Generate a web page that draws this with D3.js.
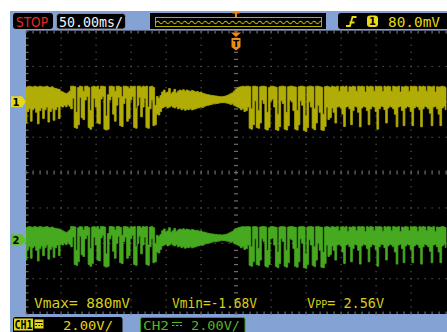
<!DOCTYPE html>
<html><head><meta charset="utf-8">
<script src="https://cdn.jsdelivr.net/npm/d3@7"></script>
<style>body{margin:0;background:#fff}svg{display:block}</style>
</head><body>
<svg id="scope" width="447" height="332"></svg>
<script>
// Acquisition settings
const timeStartMs = -300;      // left edge of record, trigger at 0
const timeStepMs = 2.5;        // spacing between envelope columns
const timePerDivMs = 50;
const voltsPerDiv = 2;
const ch1OffsetV = 4.0;
const ch2OffsetV = -3.8;

// Channel 1 envelope (max / min volts per column)
const ch1Hi = [0.80,0.85,0.88,0.85,0.83,0.88,0.85,0.83,0.88,0.85,
  0.83,0.85,0.88,0.83,0.80,0.85,0.78,0.75,0.72,0.70,
  0.60,0.55,0.50,0.45,0.50,0.60,0.88,0.88,0.85,-0.60,
  0.80,0.88,0.85,0.60,0.88,0.88,0.80,-0.50,0.85,0.88,
  0.83,0.88,0.70,0.88,0.88,0.85,-0.80,0.40,0.88,0.88,
  0.85,0.60,0.88,0.88,0.83,0.30,0.88,0.88,0.85,0.75,
  0.88,0.85,0.88,-0.40,0.88,0.88,0.80,0.88,0.85,0.88,
  -0.30,0.85,0.88,0.80,-0.20,0.30,0.20,0.35,0.55,0.66,
  0.50,0.55,0.75,0.45,0.55,0.70,0.50,0.60,0.66,0.62,
  0.68,0.60,0.66,0.62,0.58,0.64,0.60,0.55,0.58,0.52,
  0.55,0.48,0.45,0.42,0.40,0.38,0.36,0.35,0.33,0.32,
  0.30,0.30,0.28,0.30,0.32,0.35,0.40,0.45,0.50,0.60,
  0.70,0.78,0.83,0.85,0.88,0.85,0.88,0.88,0.85,-0.40,
  0.88,0.88,0.85,-0.50,0.85,0.88,0.88,0.85,-0.60,0.80,
  0.88,0.88,0.85,0.82,-0.70,0.85,0.88,0.88,0.85,-0.60,
  0.85,0.88,0.88,0.85,0.83,-0.50,0.85,0.88,0.88,0.85,
  -0.80,0.85,0.88,0.88,0.85,-0.40,0.88,0.88,0.85,0.82,
  -0.70,0.85,0.88,0.85,0.80,0.88,0.85,0.83,0.88,0.60,
  0.85,0.88,0.83,0.88,0.55,0.85,0.83,0.88,0.85,0.60,
  0.88,0.85,0.88,0.85,0.55,0.88,0.83,0.88,0.85,0.60,
  0.88,0.85,0.88,0.85,0.58,0.88,0.83,0.88,0.85,0.60,
  0.88,0.85,0.83,0.88,0.55,0.85,0.83,0.88,0.85,0.60,
  0.88,0.85,0.88,0.85,0.58,0.88,0.83,0.88,0.85,0.60,
  0.88,0.85,0.83,0.88,0.55,0.85,0.83,0.85,0.88,0.85,
  0.80];
const ch1Lo = [-1.20,-0.55,-0.40,-1.10,-0.45,-0.35,-0.60,-1.25,-0.50,-0.35,
  -0.95,-0.45,-0.30,-1.15,-0.55,-0.40,-1.05,-0.45,-0.30,-0.95,
  -0.25,-0.30,-0.20,-0.28,-0.15,-0.25,-0.40,0.20,-1.45,-1.50,
  -1.30,0.25,-0.90,-1.00,0.10,0.30,-1.45,-1.55,-1.40,0.20,
  -0.30,-1.20,-1.25,0.15,0.30,-1.55,-1.60,-1.55,0.10,0.30,
  -0.70,-1.10,-0.20,0.25,-1.35,-1.40,-0.10,0.20,-1.10,-0.95,
  0.10,0.30,-1.45,-1.50,-0.20,0.25,-0.85,-0.30,0.20,-1.45,
  -1.50,-0.40,0.10,-1.35,-1.30,-0.70,-0.75,-0.55,-0.35,-0.30,
  -0.25,-0.35,-0.30,-0.22,-0.30,-0.35,-0.28,-0.40,-0.35,-0.45,
  -0.40,-0.48,-0.42,-0.45,-0.40,-0.46,-0.42,-0.40,-0.36,-0.34,
  -0.30,-0.32,-0.26,-0.22,-0.20,-0.18,-0.15,-0.12,-0.12,-0.10,
  -0.08,-0.06,-0.05,-0.05,-0.06,-0.08,-0.10,-0.15,-0.12,-0.20,
  -0.25,-0.30,-0.35,-0.45,-0.40,-0.55,-0.50,-0.30,-1.50,-1.55,
  -1.30,0.05,-1.45,-1.50,-1.20,0.10,-0.10,-1.55,-1.60,-1.45,
  0.05,0.15,-0.30,-1.58,-1.62,-1.40,0.05,-0.10,-1.55,-1.60,
  -1.35,0.10,0.00,-0.50,-1.55,-1.60,-1.30,0.05,-0.20,-1.62,
  -1.68,-1.45,0.00,-0.30,-1.50,-1.58,-1.20,-0.20,-0.60,-1.60,
  -1.62,-1.40,-0.30,-1.00,-0.90,-0.35,-0.60,-1.20,-0.30,-0.25,
  -0.35,-0.70,-1.40,-0.30,-0.25,-0.40,-1.30,-0.50,-0.25,-0.30,
  -0.60,-1.42,-0.35,-0.25,-0.30,-0.50,-1.30,-0.40,-0.25,-0.30,
  -0.55,-1.55,-0.40,-0.25,-0.28,-0.45,-1.20,-0.35,-0.25,-0.30,
  -0.40,-0.70,-1.42,-0.30,-0.25,-0.50,-1.35,-0.35,-0.25,-0.30,
  -0.55,-1.35,-0.35,-0.25,-0.30,-0.45,-1.42,-0.40,-0.25,-0.30,
  -0.40,-0.65,-1.35,-0.30,-0.25,-0.40,-0.70,-1.35,-0.35,-0.25,
  -0.45];

// Channel 2 envelope
const ch2Hi = [0.68,0.72,0.74,0.72,0.70,0.74,0.72,0.70,0.74,0.72,
  0.70,0.72,0.74,0.70,0.68,0.72,0.66,0.64,0.62,0.60,
  0.55,0.50,0.45,0.40,0.45,0.55,0.74,0.74,0.72,-0.60,
  0.68,0.74,0.72,0.55,0.74,0.74,0.68,-0.50,0.72,0.74,
  0.70,0.74,0.60,0.74,0.74,0.72,-0.80,0.35,0.74,0.74,
  0.72,0.55,0.74,0.74,0.70,0.25,0.74,0.74,0.72,0.64,
  0.74,0.72,0.74,-0.40,0.74,0.74,0.68,0.74,0.72,0.74,
  -0.30,0.72,0.74,0.68,-0.20,0.25,0.18,0.30,0.50,0.60,
  0.45,0.50,0.68,0.42,0.50,0.64,0.46,0.55,0.60,0.57,
  0.62,0.55,0.60,0.57,0.53,0.58,0.55,0.50,0.53,0.48,
  0.50,0.44,0.42,0.39,0.37,0.35,0.33,0.32,0.30,0.29,
  0.28,0.28,0.26,0.28,0.30,0.32,0.37,0.42,0.46,0.55,
  0.62,0.66,0.70,0.72,0.74,0.72,0.74,0.74,0.72,-0.40,
  0.74,0.74,0.72,-0.50,0.72,0.74,0.74,0.72,-0.60,0.68,
  0.74,0.74,0.72,0.70,-0.70,0.72,0.74,0.74,0.72,-0.60,
  0.72,0.74,0.74,0.72,0.70,-0.50,0.72,0.74,0.74,0.72,
  -0.80,0.72,0.74,0.74,0.72,-0.40,0.74,0.74,0.72,0.70,
  -0.70,0.72,0.74,0.72,0.68,0.74,0.72,0.70,0.74,0.50,
  0.72,0.74,0.70,0.74,0.46,0.72,0.70,0.74,0.72,0.50,
  0.74,0.72,0.74,0.72,0.46,0.74,0.70,0.74,0.72,0.50,
  0.74,0.72,0.74,0.72,0.48,0.74,0.70,0.74,0.72,0.50,
  0.74,0.72,0.70,0.74,0.46,0.72,0.70,0.74,0.72,0.50,
  0.74,0.72,0.74,0.72,0.48,0.74,0.70,0.74,0.72,0.50,
  0.74,0.72,0.70,0.74,0.46,0.72,0.70,0.72,0.74,0.72,
  0.68];
const ch2Lo = [-1.15,-0.55,-0.40,-1.05,-0.45,-0.35,-0.60,-1.20,-0.50,-0.35,
  -0.90,-0.45,-0.30,-1.10,-0.55,-0.40,-1.00,-0.45,-0.30,-0.90,
  -0.25,-0.30,-0.20,-0.28,-0.15,-0.25,-0.40,0.15,-1.40,-1.45,
  -1.25,0.20,-0.85,-0.95,0.05,0.25,-1.40,-1.50,-1.35,0.15,
  -0.30,-1.15,-1.20,0.10,0.25,-1.50,-1.55,-1.50,0.05,0.25,
  -0.65,-1.05,-0.20,0.20,-1.30,-1.35,-0.10,0.15,-1.05,-0.90,
  0.05,0.25,-1.40,-1.45,-0.20,0.20,-0.80,-0.30,0.15,-1.40,
  -1.45,-0.40,0.05,-1.30,-1.25,-0.70,-0.75,-0.55,-0.35,-0.30,
  -0.25,-0.35,-0.30,-0.22,-0.30,-0.35,-0.28,-0.40,-0.35,-0.45,
  -0.40,-0.48,-0.42,-0.45,-0.40,-0.46,-0.42,-0.40,-0.36,-0.34,
  -0.30,-0.32,-0.26,-0.22,-0.20,-0.18,-0.15,-0.12,-0.12,-0.10,
  -0.08,-0.06,-0.05,-0.05,-0.06,-0.08,-0.10,-0.15,-0.12,-0.20,
  -0.25,-0.30,-0.35,-0.45,-0.40,-0.55,-0.50,-0.30,-1.45,-1.50,
  -1.25,0.05,-1.40,-1.45,-1.15,0.05,-0.10,-1.50,-1.55,-1.40,
  0.05,0.10,-0.30,-1.52,-1.58,-1.35,0.05,-0.10,-1.50,-1.55,
  -1.30,0.05,0.00,-0.50,-1.50,-1.55,-1.25,0.05,-0.20,-1.58,
  -1.62,-1.40,0.00,-0.30,-1.45,-1.52,-1.15,-0.20,-0.60,-1.55,
  -1.58,-1.35,-0.30,-0.95,-0.85,-0.35,-0.60,-1.15,-0.30,-0.25,
  -0.35,-0.70,-1.35,-0.30,-0.25,-0.40,-1.25,-0.50,-0.25,-0.30,
  -0.60,-1.38,-0.35,-0.25,-0.30,-0.50,-1.25,-0.40,-0.25,-0.30,
  -0.55,-1.50,-0.40,-0.25,-0.28,-0.45,-1.15,-0.35,-0.25,-0.30,
  -0.40,-0.70,-1.38,-0.30,-0.25,-0.50,-1.30,-0.35,-0.25,-0.30,
  -0.55,-1.30,-0.35,-0.25,-0.30,-0.45,-1.38,-0.40,-0.25,-0.30,
  -0.40,-0.65,-1.30,-0.30,-0.25,-0.40,-0.70,-1.30,-0.35,-0.25,
  -0.45];

// Readouts
const timebaseLabel = "50.00ms/";
const triggerLevelLabel = "80.0mV";
const measureLabels = [["Vmax= 880mV", ""], ["Vmin=-1.68V", ""], ["V", "PP", "= 2.56V"]];
const channelScaleLabels = ["2.00V/", "2.00V/"];

const svg = d3.select("#scope");
const mono = "'DejaVu Sans Mono', monospace";

// Screen geometry
const X0 = 26, X1 = 446, Y0 = 31, Y1 = 314;
const hDivs = 12, vDivs = 8;
const x = d3.scaleLinear()
  .domain([-hDivs / 2 * timePerDivMs, hDivs / 2 * timePerDivMs]).range([X0, X1]);
const y = d3.scaleLinear()
  .domain([-vDivs / 2 * voltsPerDiv, vDivs / 2 * voltsPerDiv]).range([Y1, Y0]);

// Bezel
svg.append("rect").attr("x", 10).attr("y", 11).attr("width", 437).attr("height", 321).attr("fill", "#84a2d4");
svg.append("rect").attr("x", X0).attr("y", Y0).attr("width", 447 - X0).attr("height", Y1 - Y0).attr("fill", "#000");
svg.append("line").attr("x1", X0).attr("x2", 447).attr("y1", Y0 - 0.5).attr("y2", Y0 - 0.5).attr("stroke", "#56607a");

// Graticule: dotted major lines
const grid = svg.append("g");
const minorT = d3.range(-hDivs / 2 * 5, hDivs / 2 * 5 + 1).map(k => k * timePerDivMs / 5);
const minorV = d3.range(-vDivs / 2 * 5, vDivs / 2 * 5 + 1).map(k => k * voltsPerDiv / 5);
const majorT = d3.range(-hDivs / 2 + 1, hDivs / 2).map(k => k * timePerDivMs);
const majorV = d3.range(-vDivs / 2 + 1, vDivs / 2).map(k => k * voltsPerDiv);
majorT.filter(t => t !== 0).forEach(t => {
  grid.selectAll(null).data(minorV).join("rect")
    .attr("x", x(t) - 0.5).attr("y", v => y(v) - 0.5).attr("width", 1.2).attr("height", 1.2).attr("fill", "#5c5c5c");
});
majorV.filter(v => v !== 0).forEach(v => {
  grid.selectAll(null).data(minorT).join("rect")
    .attr("x", t => x(t) - 0.5).attr("y", y(v) - 0.5).attr("width", 1.2).attr("height", 1.2).attr("fill", "#5c5c5c");
});
// centre axes with minor ticks
grid.selectAll(null).data(minorV).join("rect")
  .attr("x", x(0) - 2).attr("y", v => y(v) - 0.5).attr("width", 4).attr("height", 1.2).attr("fill", "#6e6e6e");
grid.selectAll(null).data(minorT).join("rect")
  .attr("x", t => x(t) - 0.5).attr("y", y(0) - 2).attr("width", 1.2).attr("height", 4).attr("fill", "#6e6e6e");
// border ticks
grid.selectAll(null).data(minorT).join("rect")
  .attr("x", t => x(t) - 0.5).attr("y", Y0).attr("width", 1.2).attr("height", 2.5).attr("fill", "#6e6e6e");
grid.selectAll(null).data(minorT).join("rect")
  .attr("x", t => x(t) - 0.5).attr("y", Y1 - 2.5).attr("width", 1.2).attr("height", 2.5).attr("fill", "#6e6e6e");
grid.selectAll(null).data(minorV).join("rect")
  .attr("x", X0).attr("y", v => y(v) - 0.5).attr("width", 2.5).attr("height", 1.2).attr("fill", "#6e6e6e");

// Waveforms
svg.append("clipPath").attr("id", "screenClip").append("rect")
  .attr("x", X0).attr("y", Y0).attr("width", 447 - X0).attr("height", Y1 - Y0);
function drawTrace(hi, lo, offset, color) {
  const area = d3.area()
    .x((d, i) => x(timeStartMs + i * timeStepMs))
    .y0((d, i) => y(lo[i] + offset))
    .y1((d, i) => y(hi[i] + offset))
    .curve(d3.curveStep);
  svg.append("path").datum(hi).attr("clip-path", "url(#screenClip)")
    .attr("d", area).attr("fill", color).attr("stroke", color).attr("stroke-width", 0.8);
}
drawTrace(ch1Hi, ch1Lo, ch1OffsetV, "#b2ad06");
drawTrace(ch2Hi, ch2Lo, ch2OffsetV, "#46a91f");

// Channel ground markers
function chMarker(label, offset, fill) {
  const cy = y(offset);
  svg.append("path").attr("d", `M11,${cy - 5.5}H22L26,${cy}L22,${cy + 5.5}H11Z`).attr("fill", fill);
  svg.append("text").attr("x", 16).attr("y", cy + 4).attr("text-anchor", "middle")
    .attr("font-family", "'DejaVu Sans', sans-serif").attr("font-weight", "bold").attr("font-size", 10)
    .attr("fill", "#000").text(label);
}
chMarker("1", ch1OffsetV, "#e6d81a");
chMarker("2", ch2OffsetV, "#62bf2c");

// Trigger position marker
const tx = x(0);
svg.append("path").attr("d", `M${tx - 5},32.5H${tx + 5}L${tx},37Z`).attr("fill", "#f28a12");
svg.append("path").attr("d", `M${tx - 4.5},38H${tx + 4.5}V47L${tx},50.5L${tx - 4.5},47Z`).attr("fill", "#f28a12");
svg.append("text").attr("x", tx).attr("y", 46.5).attr("text-anchor", "middle")
  .attr("font-family", "'DejaVu Sans', sans-serif").attr("font-weight", "bold").attr("font-size", 9)
  .attr("fill", "#000").text("T");

// Top status bar
svg.append("rect").attr("x", 13).attr("y", 13).attr("width", 40).attr("height", 16).attr("rx", 3).attr("fill", "#000");
svg.append("text").attr("x", 16).attr("y", 26.5).attr("font-family", "'DejaVu Sans', sans-serif").attr("font-size", 13.5)
  .attr("textLength", 32).attr("lengthAdjust", "spacingAndGlyphs").attr("fill", "#e42a26").text("STOP");
svg.append("rect").attr("x", 56.5).attr("y", 13.5).attr("width", 69).attr("height", 15.5).attr("rx", 3)
  .attr("fill", "#000").attr("stroke", "#9aa0aa").attr("stroke-width", 0.8);
svg.append("text").attr("x", 59).attr("y", 26.5).attr("font-family", mono).attr("font-size", 14)
  .attr("textLength", 64).attr("lengthAdjust", "spacingAndGlyphs").attr("fill", "#f4f4f4").text(timebaseLabel);

// Record overview strip
svg.append("rect").attr("x", 150).attr("y", 13).attr("width", 176).attr("height", 16).attr("fill", "#000");
const defs = svg.append("defs");
const pat = defs.append("pattern").attr("id", "overviewWave").attr("patternUnits", "userSpaceOnUse")
  .attr("x", 156).attr("y", 18).attr("width", 6.8).attr("height", 9);
pat.append("path").attr("d", "M0,4.5 Q1.7,2 3.4,4.5 T6.8,4.5").attr("fill", "none").attr("stroke", "#c8c000").attr("stroke-width", 1);
svg.append("rect").attr("x", 155.5).attr("y", 17.5).attr("width", 166).attr("height", 9)
  .attr("fill", "url(#overviewWave)").attr("stroke", "#b4ac00").attr("stroke-width", 1);
svg.append("path").attr("d", `M${tx - 3.5},11.5H${tx + 3.5}V13.5H${tx + 1}V17.5H${tx - 1}V13.5H${tx - 3.5}Z`).attr("fill", "#f28a12");

// Trigger readout
svg.append("rect").attr("x", 338).attr("y", 13).attr("width", 115).attr("height", 16).attr("rx", 3).attr("fill", "#000");
svg.append("path").attr("d", "M346,26H350L352.5,17H356.5M349.5,22.5H354.5").attr("fill", "none")
  .attr("stroke", "#e6da10").attr("stroke-width", 1.8);
svg.append("rect").attr("x", 367).attr("y", 15.5).attr("width", 11).attr("height", 11.5).attr("rx", 3).attr("fill", "#e8dc12");
svg.append("text").attr("x", 372.5).attr("y", 25).attr("text-anchor", "middle").attr("font-family", "'DejaVu Sans', sans-serif")
  .attr("font-weight", "bold").attr("font-size", 10).attr("fill", "#000").text("1");
svg.append("text").attr("x", 388).attr("y", 26.5).attr("font-family", mono).attr("font-size", 14)
  .attr("textLength", 52).attr("lengthAdjust", "spacingAndGlyphs").attr("fill", "#e2d814").text(triggerLevelLabel);

// Measurement readouts
const measColor = "#d6d016";
svg.append("text").attr("x", 34).attr("y", 307.5).attr("font-family", mono).attr("font-size", 13.5)
  .attr("textLength", 96).attr("lengthAdjust", "spacingAndGlyphs").attr("fill", measColor).text(measureLabels[0][0]);
svg.append("text").attr("x", 172).attr("y", 307.5).attr("font-family", mono).attr("font-size", 13.5)
  .attr("textLength", 85).attr("lengthAdjust", "spacingAndGlyphs").attr("fill", measColor).text(measureLabels[1][0]);
const vpp = svg.append("text").attr("x", 307).attr("y", 307.5).attr("font-family", mono).attr("font-size", 13.5).attr("fill", measColor);
vpp.append("tspan").text(measureLabels[2][0]);
vpp.append("tspan").attr("font-size", 10).text(measureLabels[2][1]);
vpp.append("tspan").text(measureLabels[2][2]);

// Channel scale bar
svg.append("path").attr("d", "M13,332V319.5Q13,317 15.5,317H120Q122.5,317 122.5,319.5V332Z").attr("fill", "#000");
svg.append("rect").attr("x", 14).attr("y", 318.5).attr("width", 19).attr("height", 12).attr("fill", "#e2d614");
svg.append("text").attr("x", 14.5).attr("y", 328.5).attr("font-family", mono).attr("font-weight", "bold").attr("font-size", 11.5)
  .attr("textLength", 18).attr("lengthAdjust", "spacingAndGlyphs").attr("fill", "#000").text("CH1");
svg.append("rect").attr("x", 34.5).attr("y", 319.5).attr("width", 9).attr("height", 9).attr("fill", "#e2d614");
svg.append("path").attr("d", "M35.5,322.5H42.5M35.5,325.5H37M38.5,325.5H40M41,325.5H42.5").attr("stroke", "#000").attr("stroke-width", 1);
svg.append("text").attr("x", 63).attr("y", 329.5).attr("font-family", mono).attr("font-size", 13)
  .attr("textLength", 50).attr("lengthAdjust", "spacingAndGlyphs").attr("fill", "#e2d614").text(channelScaleLabels[0]);

svg.append("path").attr("d", "M140.5,332V319.5Q140.5,317.5 142.5,317.5H243Q245,317.5 245,319.5V332")
  .attr("fill", "#000").attr("stroke", "#3c9a1e").attr("stroke-width", 1);
svg.append("text").attr("x", 143).attr("y", 329.5).attr("font-family", mono).attr("font-size", 13)
  .attr("textLength", 26).attr("lengthAdjust", "spacingAndGlyphs").attr("fill", "#52b824").text("CH2");
svg.append("path").attr("d", "M172,322.5H182M172,325.5H174.5M176,325.5H178.5M180,325.5H182").attr("stroke", "#52b824").attr("stroke-width", 1.2);
svg.append("text").attr("x", 191).attr("y", 329.5).attr("font-family", mono).attr("font-size", 13)
  .attr("textLength", 49).attr("lengthAdjust", "spacingAndGlyphs").attr("fill", "#52b824").text(channelScaleLabels[1]);
</script>
</body></html>
